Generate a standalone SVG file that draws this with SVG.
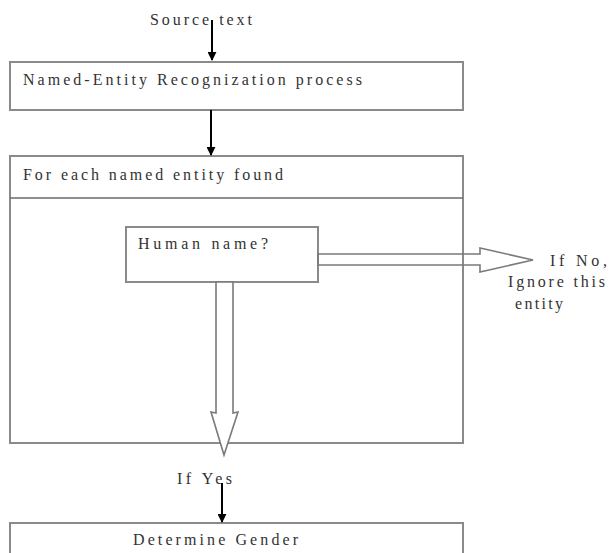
<svg xmlns="http://www.w3.org/2000/svg" width="610" height="553" viewBox="0 0 610 553">
<style>
text{font-family:"Liberation Serif","DejaVu Serif",serif;font-size:16px;fill:#333}
.box{fill:#fff;stroke:#8a8a8a;stroke-width:2}
.div{stroke:#6a6a6a;stroke-width:1.5}
.conn{stroke:#000;stroke-width:2;fill:none}
.big{fill:#fff;stroke:#7a7a7a;stroke-width:1.6;stroke-linejoin:miter}
</style>
<defs>
<marker id="ah" viewBox="0 0 10 10" refX="9" refY="5" markerWidth="4.5" markerHeight="4.5" orient="auto" markerUnits="strokeWidth">
<path d="M0,0 L10,5 L0,10 z" fill="#000"/>
</marker>
</defs>
<rect width="610" height="553" fill="#fff"/>
<g id="source"><text x="150" y="25" textLength="102" lengthAdjust="spacing">Source text</text></g>
<g id="ner"><rect class="box" x="10" y="62" width="453" height="48"/>
<text x="23" y="85" textLength="339" lengthAdjust="spacing">Named-Entity Recognization process</text></g>
<g id="foreach"><rect class="box" x="10" y="156" width="453" height="287"/>
<line class="div" x1="10" y1="198" x2="463" y2="198"/>
<text x="23" y="180" textLength="260" lengthAdjust="spacing">For each named entity found</text></g>
<g id="human"><rect class="box" x="126" y="227" width="192" height="55"/>
<text x="138" y="249" textLength="130" lengthAdjust="spacing">Human name?</text></g>
<g id="ifno"><text x="550" y="266" textLength="57" lengthAdjust="spacing">If No,</text>
<text x="508" y="287" textLength="97" lengthAdjust="spacing">Ignore this</text>
<text x="515" y="309" textLength="48" lengthAdjust="spacing">entity</text></g>
<g id="ifyes"><text x="177" y="484" textLength="55" lengthAdjust="spacing">If Yes</text></g>
<g id="gender"><rect class="box" x="10" y="523" width="453" height="40"/>
<text x="133" y="545" textLength="165" lengthAdjust="spacing">Determine Gender</text></g>
<g id="connectors">
<line class="conn" x1="212" y1="20" x2="212" y2="60" marker-end="url(#ah)"/>
<line class="conn" x1="211" y1="110" x2="211" y2="155" marker-end="url(#ah)"/>
<line class="conn" x1="222" y1="483" x2="222" y2="522" marker-end="url(#ah)"/>
<polygon class="big" points="318,254 480,254 480,248 533,260 480,272 480,265 318,265" style="fill:none"/>
<polygon class="big" points="216,282 233,282 233,413 238,412 224,455 211,412 216,413"/>
</g>
</svg>
